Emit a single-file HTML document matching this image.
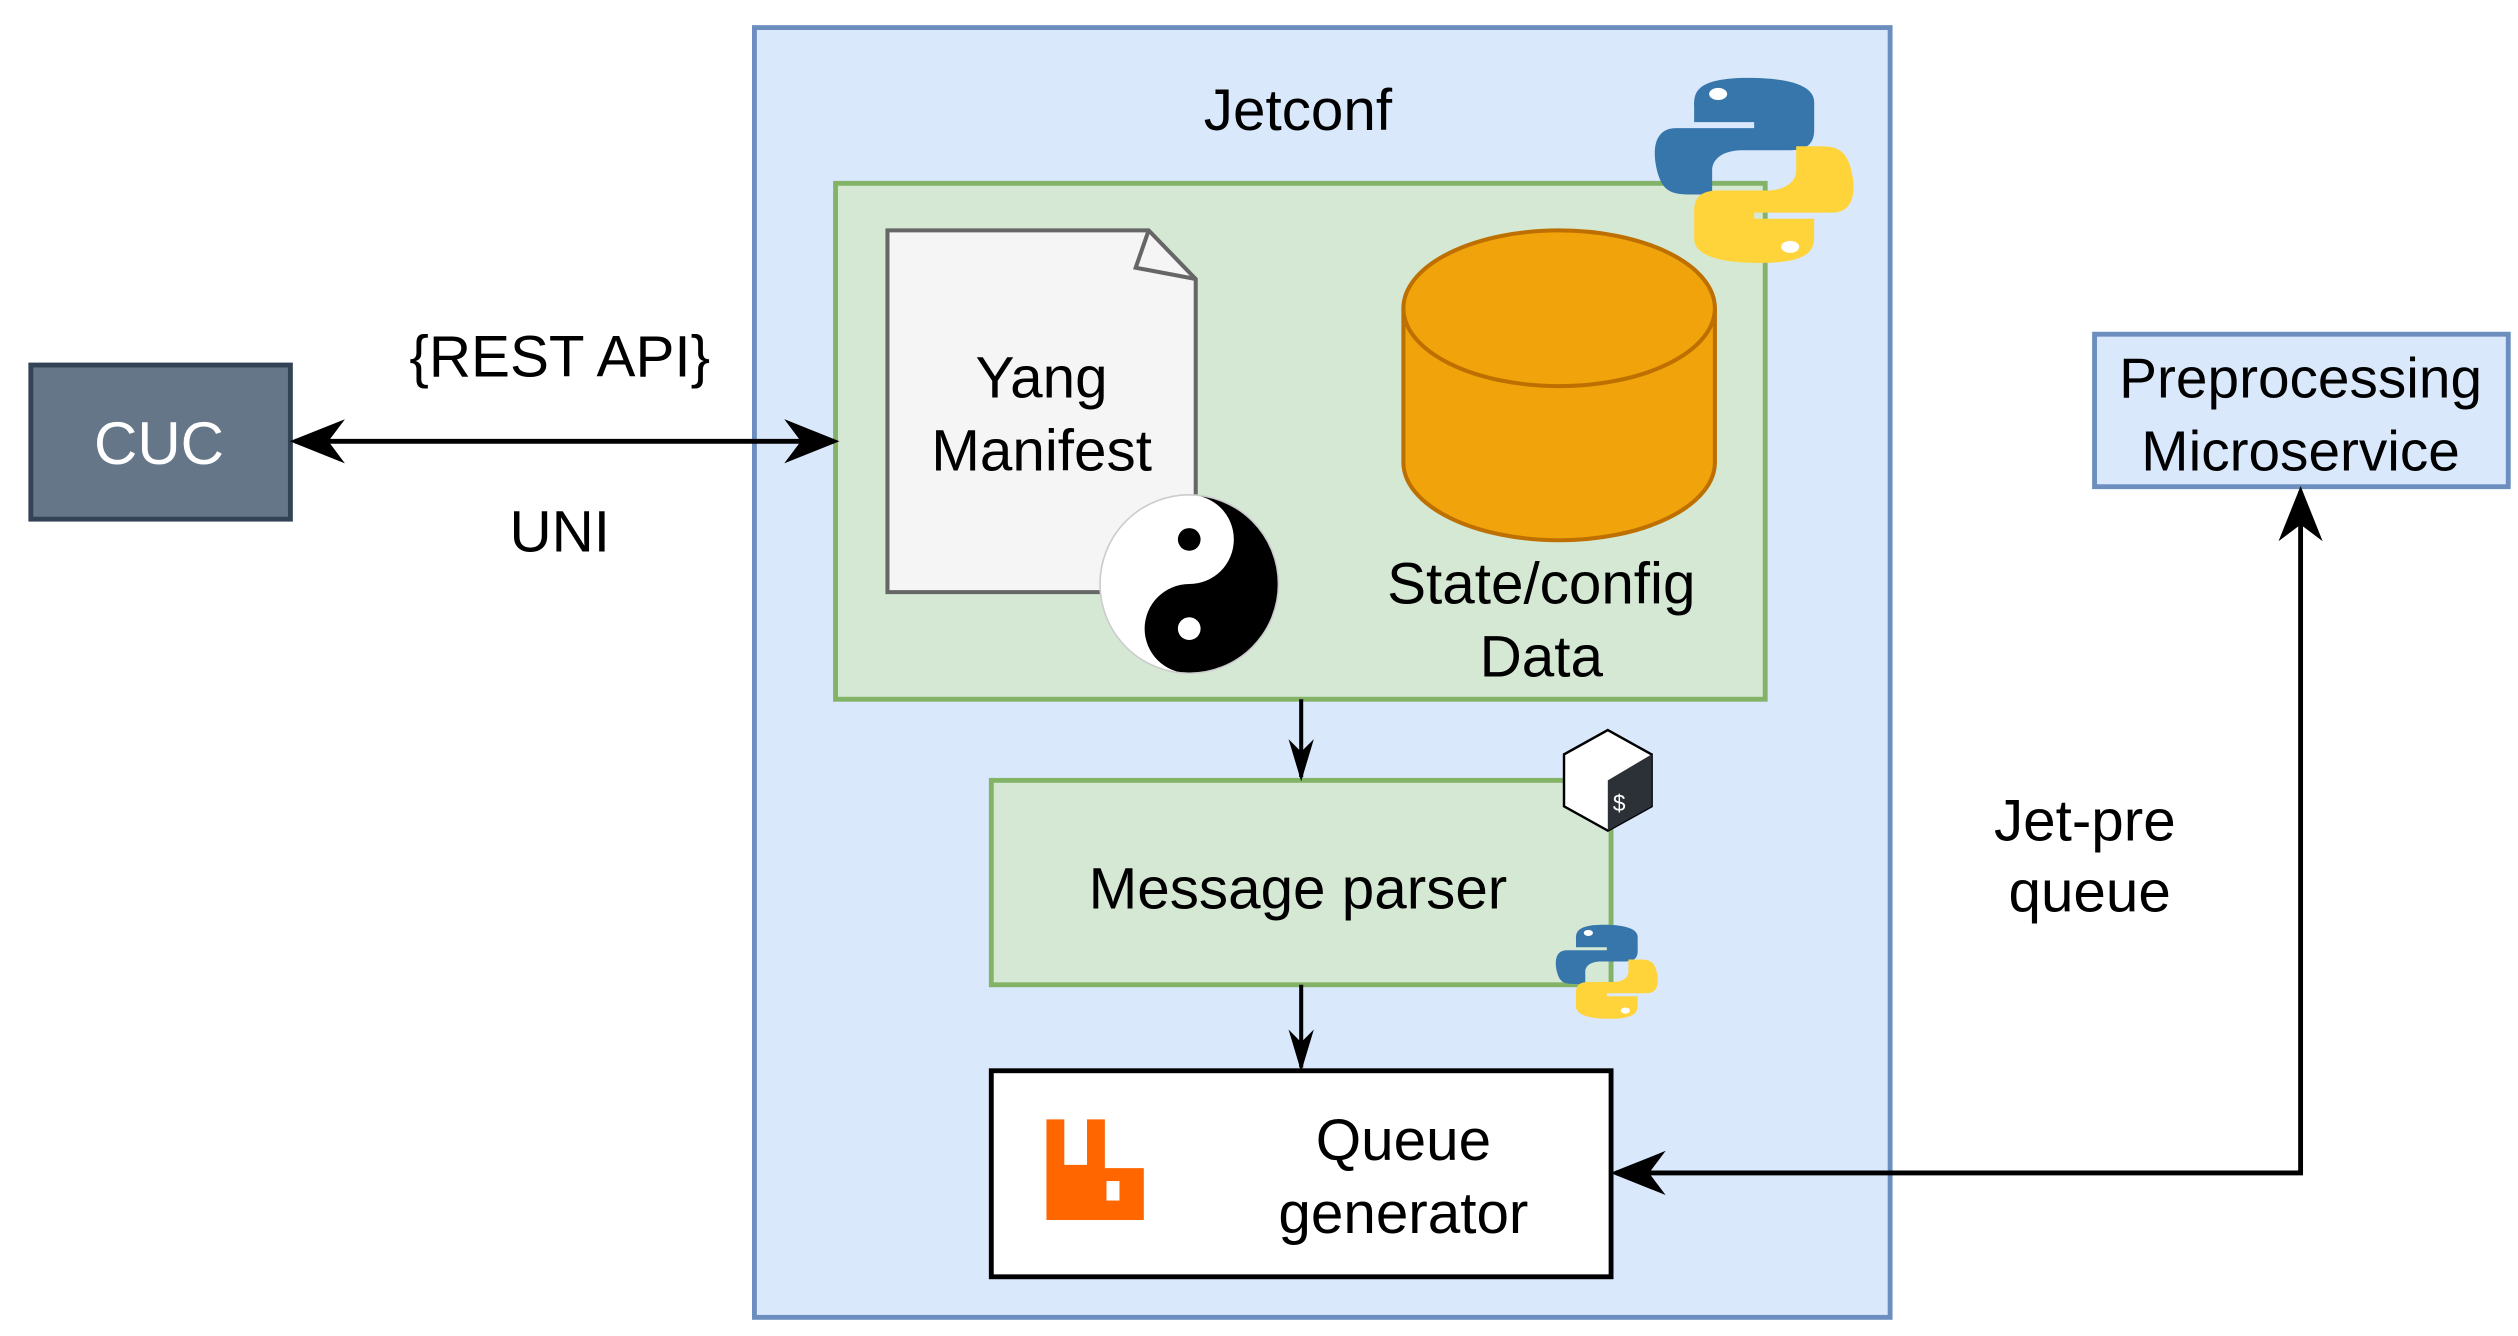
<!DOCTYPE html>
<html><head><meta charset="utf-8"><style>html,body{margin:0;padding:0;background:#fff}svg{display:block}</style></head>
<body>
<svg width="2518" height="1336" viewBox="0 0 1552 823.5" preserveAspectRatio="none" xmlns="http://www.w3.org/2000/svg" font-family="Liberation Sans, sans-serif">
<defs>
<marker id="ah" viewBox="0 0 20 20" refX="18" refY="10" markerWidth="34" markerHeight="34" markerUnits="userSpaceOnUse" orient="auto-start-reverse">
<path d="M0,2 L20,10 L0,18 L6,10 Z" fill="#000"/></marker>
<marker id="as" viewBox="0 0 20 20" refX="18" refY="10" markerWidth="26" markerHeight="26" markerUnits="userSpaceOnUse" orient="auto-start-reverse">
<path d="M0,4 L20,10 L0,16 L6,10 Z" fill="#000"/></marker>
<g id="py">
<path d="M30,0 C12,0 12,8 12,14 L12,22 L32,22 L32,25 L6,25 C-2,25 -2,38 0,48 C2,58 6,58 12,58 L18,58 L18,46 C18,40 22,36 28,36 L44,36 C50,36 52,32 52,26 L52,12 C52,4 44,0 30,0 Z" fill="#3776ab"/>
<circle cx="20" cy="8" r="3" fill="#fff"/>
<path d="M34,92 C52,92 52,84 52,78 L52,70 L32,70 L32,67 L58,67 C66,67 66,54 64,44 C62,34 58,34 52,34 L46,34 L46,46 C46,52 42,56 36,56 L20,56 C14,56 12,60 12,66 L12,80 C12,88 20,92 34,92 Z" fill="#ffd43b"/>
<circle cx="44" cy="84" r="3" fill="#fff"/>
</g>
</defs>
<!-- CUC -->
<rect x="19" y="225" width="160" height="95" fill="#647687" stroke="#314354" stroke-width="3"/>
<text x="98" y="286" font-size="37" fill="#fff" text-anchor="middle">CUC</text>
<text x="345" y="232" font-size="36" text-anchor="middle">{REST API}</text>
<text x="345" y="340" font-size="36" text-anchor="middle">UNI</text>
<!-- outer -->
<rect x="465" y="17" width="700" height="795" fill="#dae8fc" stroke="#6c8ebf" stroke-width="3"/>
<text x="800" y="80" font-size="36" text-anchor="middle">Jetconf</text>
<rect x="515" y="113" width="573" height="318" fill="#d5e8d4" stroke="#82b366" stroke-width="3"/>
<line x1="182" y1="272" x2="514" y2="272" stroke="#000" stroke-width="3" marker-start="url(#ah)" marker-end="url(#ah)"/>
<!-- doc -->
<path d="M547,142 L708,142 L737,172 L737,365 L547,365 Z" fill="#f5f5f5" stroke="#666" stroke-width="2.5"/>
<path d="M708,142 L700,165 L737,172" fill="none" stroke="#666" stroke-width="2.5"/>
<text x="642" y="245" font-size="36" text-anchor="middle">Yang</text>
<text x="642" y="290" font-size="36" text-anchor="middle">Manifest</text>
<!-- yin yang -->
<g transform="translate(733,360)">
<circle r="55" fill="#fff"/>
<path d="M0,-55 A55,55 0 0 1 0,55 A27.5,27.5 0 0 1 0,0 A27.5,27.5 0 0 0 0,-55 Z" fill="#000"/>
<circle cy="-27.5" r="7" fill="#000"/>
<circle cy="27.5" r="7" fill="#fff"/>
<circle r="55" fill="none" stroke="#ccc" stroke-width="1"/>
</g>
<!-- cylinder -->
<path d="M865,190 L865,285 A96,48 0 0 0 1057,285 L1057,190" fill="#f0a30a" stroke="#bd7000" stroke-width="2.5"/>
<ellipse cx="961" cy="190" rx="96" ry="48" fill="#f0a30a" stroke="#bd7000" stroke-width="2.5"/>
<text x="950" y="372" font-size="36" text-anchor="middle">State/config</text>
<text x="950" y="417" font-size="36" text-anchor="middle">Data</text>
<use href="#py" transform="translate(1022,48) scale(1.85,1.24)"/>
<!-- message parser -->
<rect x="611" y="481" width="382" height="126" fill="#d5e8d4" stroke="#82b366" stroke-width="3"/>
<line x1="802" y1="431" x2="802" y2="479" stroke="#000" stroke-width="2.5" marker-end="url(#as)"/>
<text x="800" y="560" font-size="36" text-anchor="middle">Message parser</text>
<path d="M991,450 L1018,465 L1018,497 L991,512 L964,497 L964,465 Z" fill="#fff" stroke="#000" stroke-width="1.5"/>
<path d="M1018,465 L1018,497 L991,512 L991,481 Z" fill="#2b3137"/>
<text x="998" y="500" font-size="14" fill="#fff" text-anchor="middle">$</text>
<use href="#py" transform="translate(960,570) scale(0.95,0.63)"/>
<!-- queue generator -->
<rect x="611" y="660" width="382" height="127" fill="#fff" stroke="#000" stroke-width="3"/>
<line x1="802" y1="607" x2="802" y2="658" stroke="#000" stroke-width="2.5" marker-end="url(#as)"/>
<path d="M645,690 L656,690 L656,718 L670,718 L670,690 L681,690 L681,720 L705,720 L705,752 L645,752 Z" fill="#ff6600"/>
<rect x="682" y="728" width="8" height="12" fill="#fff"/>
<text x="865" y="715" font-size="36" text-anchor="middle">Queue</text>
<text x="865" y="760" font-size="36" text-anchor="middle">generator</text>
<!-- preprocessing -->
<rect x="1291" y="206" width="255" height="94" fill="#dae8fc" stroke="#6c8ebf" stroke-width="3"/>
<text x="1418" y="245" font-size="35" text-anchor="middle">Preprocessing</text>
<text x="1418" y="290" font-size="35" text-anchor="middle">Microservice</text>
<polyline points="996,723 1418,723 1418,303" fill="none" stroke="#000" stroke-width="3" marker-start="url(#ah)" marker-end="url(#ah)"/>
<text x="1285" y="518" font-size="36" text-anchor="middle">Jet-pre</text>
<text x="1288" y="562" font-size="36" text-anchor="middle">queue</text>
</svg>
</body></html>
